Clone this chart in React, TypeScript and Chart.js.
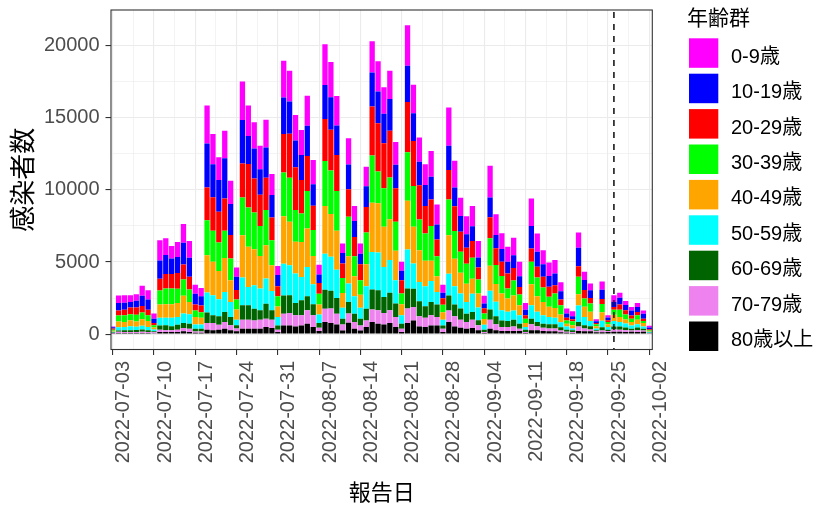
import React, { useEffect, useRef } from 'react';
import { Chart, registerables } from 'chart.js';

Chart.register(...registerables);

// ---------- data ----------
const startDate = '2022-07-03';
const dayCount = 92;
const dates: string[] = (() => {
  const out: string[] = [];
  const d0 = new Date(startDate + 'T00:00:00Z');
  for (let i = 0; i < dayCount; i++) {
    const d = new Date(d0.getTime() + i * 86400000);
    out.push(d.toISOString().slice(0, 10));
  }
  return out;
})();

const ageGroups = ['0-9歳', '10-19歳', '20-29歳', '30-39歳', '40-49歳', '50-59歳', '60-69歳', '70-79歳', '80歳以上'];
const ageColors = ['#FF00FF', '#0000FF', '#FF0000', '#00FF00', '#FFA500', '#00FFFF', '#006400', '#EE82EE', '#000000'];

const age0_9 = [
  60, 530, 510, 460, 460, 700, 650, 350, 1390, 1160,
  860, 1040, 1300, 1160, 630, 560, 2640, 2090, 1580, 1920,
  1600, 630, 2670, 2110, 1810, 1620, 1920, 1460, 630, 2550,
  2130, 1780, 1740, 2090, 1690, 670, 2830, 2460, 2060, 650,
  1810, 1040, 700, 1340, 2160, 2090, 1850, 1970, 1580, 630,
  2800, 1970, 1690, 1440, 1780, 1390, 560, 2640, 1850, 1270,
  1250, 1410, 1140, 530, 2200, 1440, 1090, 1040, 1230, 1000,
  460, 1920, 1270, 970, 930, 930, 630, 350, 350, 1070,
  580, 460, 140, 580, 160, 460, 350, 280, 230, 280,
  230, 120,
];
const age10_19 = [
  90, 510, 490, 390, 460, 700, 700, 300, 1270, 1320,
  1090, 1110, 1510, 1320, 740, 650, 3060, 2290, 2200, 2780,
  2160, 930, 3010, 1950, 2090, 1780, 2090, 1550, 770, 2530,
  2250, 1850, 1740, 2090, 1480, 600, 2360, 2250, 2040, 740,
  1720, 1110, 740, 1440, 2360, 2200, 2040, 2200, 1620, 650,
  2530, 1920, 1620, 1460, 1580, 1040, 370, 1690, 1300, 1090,
  930, 1020, 700, 320, 1370, 930, 880, 810, 880, 740,
  390, 1550, 1040, 880, 740, 810, 580, 280, 210, 1270,
  700, 530, 120, 630, 190, 350, 460, 350, 350, 350,
  350, 120,
];
const age20_29 = [
  80, 350, 390, 460, 510, 460, 390, 160, 810, 1000,
  1000, 1090, 1040, 880, 420, 460, 2270, 2320, 2130, 2250,
  1620, 650, 2360, 3010, 2360, 2160, 2250, 1580, 700, 2670,
  3040, 2970, 2320, 2430, 1690, 740, 2920, 2830, 2500, 1000,
  1920, 1340, 1110, 1780, 3410, 3360, 3130, 3240, 2320, 930,
  3480, 3130, 2390, 1900, 1850, 1160, 460, 2040, 1720, 1390,
  1110, 1160, 830, 370, 1460, 1160, 1000, 1040, 860, 530,
  230, 930, 740, 740, 700, 580, 390, 190, 140, 740,
  580, 390, 90, 350, 120, 190, 370, 300, 230, 230,
  160, 50,
];
const age30_39 = [
  70, 420, 460, 420, 460, 460, 390, 160, 970, 1090,
  1090, 1000, 1140, 860, 460, 390, 2430, 2160, 1970, 1880,
  1510, 700, 2620, 2730, 2550, 2090, 2430, 1740, 700, 3040,
  3060, 2200, 1970, 2600, 1810, 740, 3110, 3010, 2760, 1040,
  2730, 1390, 1000, 2200, 3270, 2200, 2670, 2900, 2020, 740,
  3360, 2830, 2130, 1900, 2410, 1390, 510, 2480, 1920, 1460,
  1390, 1460, 970, 390, 1900, 1320, 1210, 700, 1040, 740,
  300, 1550, 1300, 1000, 700, 1000, 650, 230, 280, 1210,
  580, 580, 140, 580, 160, 350, 510, 350, 230, 300,
  140, 50,
];
const age40_49 = [
  70, 390, 350, 420, 370, 460, 420, 140, 930, 930,
  930, 970, 1230, 860, 510, 460, 2570, 2320, 1970, 2360,
  1510, 700, 2940, 2780, 2500, 2250, 2320, 1780, 740, 3290,
  3010, 2200, 2430, 2670, 1950, 700, 3310, 2970, 2690, 1020,
  1900, 1390, 900, 1530, 3410, 3410, 2780, 2830, 2040, 770,
  3380, 2550, 2200, 1760, 1390, 1090, 530, 2670, 1920, 1440,
  1270, 1040, 970, 390, 1740, 1230, 1160, 930, 1040, 700,
  280, 1460, 1090, 930, 700, 670, 530, 190, 230, 770,
  700, 630, 160, 580, 190, 440, 350, 280, 230, 320,
  230, 70,
];
const age50_59 = [
  50, 230, 230, 280, 230, 250, 230, 120, 530, 530,
  600, 530, 650, 650, 300, 300, 1390, 1390, 1180, 1390,
  1040, 390, 1920, 1270, 1620, 1510, 1740, 1340, 580, 2200,
  2090, 2040, 1620, 2040, 1390, 600, 2500, 2360, 1970, 770,
  1270, 1210, 770, 1550, 2600, 2620, 2090, 2270, 1620, 580,
  2710, 1740, 1340, 1390, 1460, 860, 390, 1510, 1250, 1040,
  810, 1270, 880, 350, 1300, 1000, 700, 630, 650, 580,
  190, 930, 700, 580, 510, 460, 350, 230, 120, 1160,
  580, 370, 120, 460, 190, 370, 300, 280, 230, 230,
  160, 70,
];
const age60_69 = [
  40, 90, 120, 120, 140, 160, 120, 70, 300, 350,
  280, 350, 350, 350, 190, 190, 740, 530, 580, 700,
  580, 230, 1000, 1000, 810, 650, 1040, 650, 300, 1270,
  1230, 860, 1040, 970, 770, 320, 1320, 1230, 1090, 390,
  810, 580, 460, 810, 1390, 1390, 1110, 1210, 930, 350,
  1390, 1270, 1040, 790, 930, 880, 230, 1040, 830, 770,
  580, 530, 350, 160, 700, 560, 460, 420, 460, 350,
  160, 390, 300, 280, 300, 300, 230, 140, 120, 300,
  230, 230, 70, 230, 90, 210, 230, 190, 120, 190,
  120, 20,
];
const age70_79 = [
  40, 90, 70, 70, 70, 90, 70, 70, 160, 120,
  120, 160, 230, 230, 90, 90, 460, 510, 350, 460,
  350, 190, 630, 630, 580, 630, 580, 580, 160, 810,
  860, 770, 700, 930, 810, 230, 930, 1000, 740, 420,
  630, 460, 350, 460, 880, 930, 790, 880, 700, 230,
  1000, 930, 700, 650, 700, 580, 230, 810, 700, 560,
  460, 580, 350, 70, 630, 420, 280, 280, 320, 160,
  70, 420, 280, 230, 190, 190, 120, 70, 70, 320,
  190, 120, 70, 120, 70, 160, 140, 120, 90, 120,
  90, 20,
];
const age80plus = [
  30, 70, 70, 70, 70, 70, 70, 50, 140, 140,
  140, 140, 190, 140, 90, 90, 300, 260, 300, 370,
  260, 190, 370, 370, 370, 370, 490, 420, 140, 600,
  600, 530, 600, 720, 490, 210, 830, 770, 670, 250,
  790, 370, 250, 490, 830, 720, 670, 770, 490, 140,
  770, 950, 530, 490, 600, 600, 140, 830, 530, 440,
  370, 420, 260, 70, 370, 260, 210, 210, 210, 210,
  70, 260, 260, 210, 190, 190, 120, 90, 70, 210,
  190, 190, 120, 120, 140, 160, 160, 140, 160, 140,
  160, 50,
];
const seriesValues = [age0_9, age10_19, age20_29, age30_39, age40_49, age50_59, age60_69, age70_79, age80plus];

const xTickLabels = [
  '2022-07-03', '2022-07-10', '2022-07-17', '2022-07-24', '2022-07-31', '2022-08-07', '2022-08-14',
  '2022-08-21', '2022-08-28', '2022-09-04', '2022-09-11', '2022-09-18', '2022-09-25', '2022-10-02',
];
const yTickValues = [0, 5000, 10000, 15000, 20000];
const markerDate = '2022-09-26';

const xTitle = '報告日';
const yTitle = '感染者数';
const legendTitle = '年齢群';

// ---------- presentation ----------
const W = 819;
const H = 505;
const AREA = { left: 111, right: 652.3, top: 10, bottom: 349.5 };
const FONT = '"Liberation Sans", Arial, "Noto Sans CJK JP", sans-serif';
const CJK = '"Noto Sans CJK JP", "Liberation Sans", sans-serif';

const withMinors = (majors: number[], lo: number, hi: number) => {
  const out: { value: number; major: boolean }[] = [];
  const step = majors.length > 1 ? majors[1] - majors[0] : 1;
  const first = majors[0] - step / 2;
  if (first >= lo) out.push({ value: first, major: false });
  majors.forEach((m, i) => {
    out.push({ value: m, major: true });
    const mid = m + step / 2;
    if (i < majors.length - 1 || mid <= hi) {
      if (mid <= hi) out.push({ value: mid, major: false });
    }
  });
  return out;
};

export default function App() {
  const ref = useRef<HTMLCanvasElement | null>(null);

  useEffect(() => {
    const canvas = ref.current;
    if (!canvas) return;

    const xIndexOf = (d: string) => dates.indexOf(d);
    const xMin = -0.29;
    const xMax = dates.length - 1 + 0.51;
    const yMin = -1070;
    const yMax = 22480;

    const xMajorVals = xTickLabels.map(xIndexOf);
    const xTicksAll = withMinors(xMajorVals, xMin, xMax);
    const yTicksAll = withMinors(yTickValues, yMin, yMax);
    const xLabelMap = new Map<number, string>();
    xTickLabels.forEach((l) => xLabelMap.set(xIndexOf(l), l));
    const xMajorSet = new Set(xMajorVals);
    const yMajorSet = new Set(yTickValues);

    // stack from bottom: 80+ first
    const order = seriesValues.map((_, i) => i).reverse();
    const datasets = order.map((gi) => ({
      label: ageGroups[gi],
      data: seriesValues[gi].map((v, i) => ({ x: i, y: v })),
      backgroundColor: ageColors[gi],
      borderWidth: 0,
      stack: 's',
    }));

    const panelPlugin = {
      id: 'panel',
      afterDatasetsDraw(chart: any) {
        const { ctx, chartArea } = chart;
        const xs = chart.scales.x;
        ctx.save();
        // dashed marker line
        const mx = xs.getPixelForValue(xIndexOf(markerDate));
        ctx.beginPath();
        ctx.setLineDash([6, 6]);
        ctx.lineDashOffset = -2;
        ctx.strokeStyle = '#1A1A1A';
        ctx.lineWidth = 1.6;
        ctx.moveTo(mx, chartArea.top);
        ctx.lineTo(mx, chartArea.bottom);
        ctx.stroke();
        ctx.setLineDash([]);
        // panel border
        ctx.strokeStyle = '#333333';
        ctx.lineWidth = 1.1;
        ctx.strokeRect(chartArea.left, chartArea.top, chartArea.right - chartArea.left, chartArea.bottom - chartArea.top);
        ctx.restore();
      },
      afterDraw(chart: any) {
        const { ctx } = chart;
        ctx.save();
        ctx.fillStyle = '#000000';
        ctx.font = `21px ${CJK}`;
        ctx.textBaseline = 'middle';
        ctx.textAlign = 'left';
        ctx.fillText(legendTitle, 687, 17.5);
        ageGroups.forEach((g, i) => {
          const top = 38.3 + 35.4 * i;
          ctx.fillStyle = ageColors[i];
          ctx.fillRect(689, top, 29.3, 29.5);
          ctx.fillStyle = '#000000';
          ctx.font = `20px ${FONT}`;
          ctx.textBaseline = 'alphabetic';
          ctx.fillText(g, 731, top + 24.4);
        });
        ctx.restore();
      },
    };

    const chart = new Chart(canvas, {
      type: 'bar',
      data: { datasets },
      options: {
        animation: false,
        responsive: false,
        devicePixelRatio: 1,
        events: [],
        layout: { padding: { left: 0, top: AREA.top, right: W - AREA.right, bottom: 0 } },
        plugins: { legend: { display: false }, tooltip: { enabled: false } },
        datasets: { bar: { categoryPercentage: 1, barPercentage: 0.9 } },
        scales: {
          x: {
            type: 'linear',
            stacked: true,
            offset: false,
            min: xMin,
            max: xMax,
            afterBuildTicks: (s: any) => {
              s.ticks = xTicksAll.map((t) => ({ value: t.value }));
            },
            afterFit: (s: any) => {
              s.height = H - AREA.bottom;
              s.paddingLeft = 0;
              s.paddingRight = 0;
            },
            border: { display: false },
            grid: {
              offset: false,
              drawTicks: true,
              tickLength: 5.5,
              color: '#EBEBEB',
              lineWidth: (c: any) => (c.tick && xMajorSet.has(c.tick.value) ? 1.1 : 0.6),
              tickColor: (c: any) => (c.tick && xMajorSet.has(c.tick.value) ? '#333333' : 'rgba(0,0,0,0)'),
              tickWidth: (c: any) => (c.tick && xMajorSet.has(c.tick.value) ? 1.1 : 0),
            },
            ticks: {
              autoSkip: false,
              minRotation: 90,
              maxRotation: 90,
              labelOffset: 11,
              padding: 6,
              color: '#4D4D4D',
              font: { family: FONT, size: 20 },
              callback: (v: any) => xLabelMap.get(Number(v)) ?? '',
            },
            title: {
              display: true,
              text: xTitle,
              color: '#000000',
              font: { family: CJK, size: 22 },
              padding: { top: 0, bottom: 0 },
            },
          },
          y: {
            type: 'linear',
            stacked: true,
            min: yMin,
            max: yMax,
            afterBuildTicks: (s: any) => {
              s.ticks = yTicksAll.map((t) => ({ value: t.value }));
            },
            afterFit: (s: any) => {
              s.width = AREA.left;
              s.paddingTop = 0;
              s.paddingBottom = 0;
            },
            border: { display: false },
            grid: {
              drawTicks: true,
              tickLength: 5.5,
              color: '#EBEBEB',
              lineWidth: (c: any) => (c.tick && yMajorSet.has(c.tick.value) ? 1.1 : 0.6),
              tickColor: (c: any) => (c.tick && yMajorSet.has(c.tick.value) ? '#333333' : 'rgba(0,0,0,0)'),
              tickWidth: (c: any) => (c.tick && yMajorSet.has(c.tick.value) ? 1.1 : 0),
            },
            ticks: {
              autoSkip: false,
              padding: 6,
              color: '#4D4D4D',
              font: { family: FONT, size: 20 },
              callback: (v: any) => (yMajorSet.has(Number(v)) ? String(v) : ''),
            },
            title: {
              display: true,
              text: yTitle,
              color: '#000000',
              font: { family: CJK, size: 26 },
              padding: { top: 7, bottom: 0 },
            },
          },
        },
      },
      plugins: [panelPlugin],
    } as any);

    return () => chart.destroy();
  }, []);

  return (
    <div style={{ position: 'fixed', left: 0, top: 0, width: W, height: H, background: '#FFFFFF' }}>
      <canvas ref={ref} width={W} height={H} style={{ display: 'block', width: W, height: H }} />
    </div>
  );
}
